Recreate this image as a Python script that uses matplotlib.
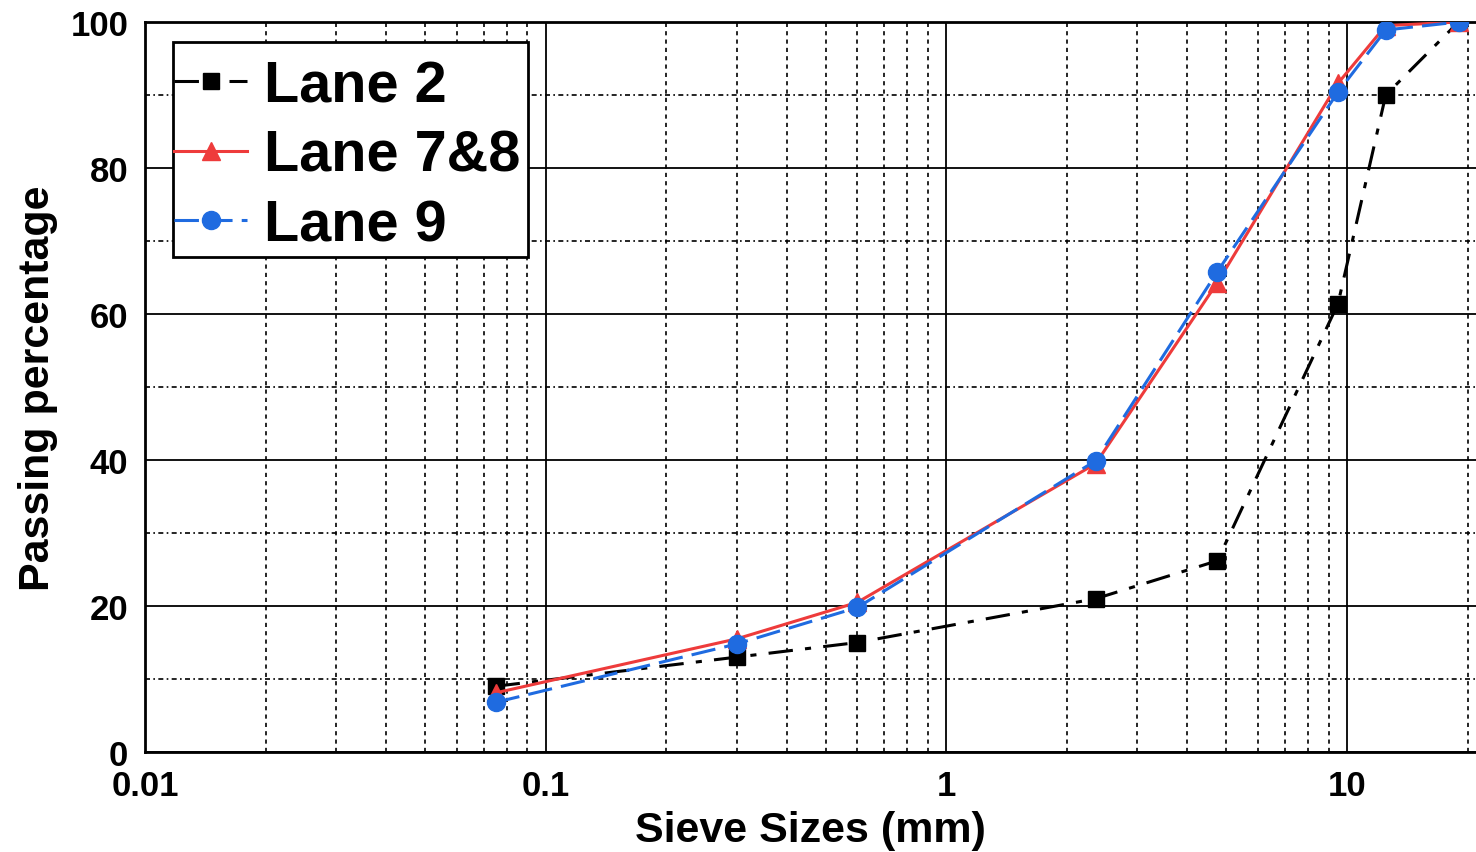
import matplotlib
matplotlib.use("Agg")
import matplotlib.pyplot as plt
from matplotlib.patches import Rectangle
from matplotlib.ticker import LogLocator, FixedLocator, NullFormatter

plt.rcParams['font.family'] = ['Liberation Sans', 'DejaVu Sans']
plt.rcParams['font.weight'] = 'bold'

sieve = [0.075, 0.3, 0.6, 2.36, 4.75, 9.5, 12.5, 19]
lane2 = [9.0, 13.0, 15.0, 21.0, 26.2, 61.4, 90.0, 100.0]
lane78 = [8.1, 15.5, 20.5, 39.5, 64.3, 91.6, 99.5, 100.0]
lane9 = [6.8, 14.8, 19.8, 39.9, 65.8, 90.4, 98.9, 100.0]
series_names = ["Lane 2", "Lane 7&8", "Lane 9"]
xticks = [0.01, 0.1, 1, 10]
xticklabels = ["0.01", "0.1", "1", "10"]
yticks = [0, 20, 40, 60, 80, 100]

W, H = 1476, 853
fig = plt.figure(figsize=(W / 100, H / 100), dpi=100)
ax = fig.add_axes([145 / W, (H - 753) / H, (1476 - 145) / W, (753 - 23) / H])
ax.set_xscale('log')
ax.set_xlim(0.01, 21)
ax.set_ylim(0, 100)

# grids
ax.xaxis.set_major_locator(FixedLocator(xticks))
ax.xaxis.set_minor_locator(LogLocator(base=10, subs=range(2, 10)))
ax.xaxis.set_minor_formatter(NullFormatter())
ax.set_xticks(xticks)
ax.set_xticklabels(xticklabels)
ax.yaxis.set_major_locator(FixedLocator(yticks))
ax.yaxis.set_minor_locator(FixedLocator([10, 30, 50, 70, 90]))
ax.grid(which='major', color='black', linewidth=1.3, linestyle='-')
ax.xaxis.grid(which='minor', color='black', linewidth=1.2, linestyle=(0, (2.5, 2.5)))
ax.yaxis.grid(which='minor', color='black', linewidth=1.2, linestyle=(0, (3, 2, 1, 2)))
ax.set_axisbelow(True)

ax.tick_params(which='both', length=0)
ax.tick_params(axis='x', labelsize=25, pad=12)
ax.tick_params(axis='y', labelsize=25, pad=12)
for lbl in ax.get_xticklabels() + ax.get_yticklabels():
    lbl.set_fontweight('bold')

for side in ['top', 'left', 'bottom']:
    ax.spines[side].set_linewidth(2)
ax.spines['right'].set_visible(False)

ax.plot(sieve, lane2, color='black', linestyle=(0, (8, 4, 2, 4)), linewidth=2.2,
        marker='s', markersize=12, label=series_names[0], zorder=3)
ax.plot(sieve, lane78, color='#ee3b3b', linestyle='-', linewidth=2.2,
        marker='^', markersize=13, label=series_names[1], zorder=4)
ax.plot(sieve, lane9, color='#1f6be0', linestyle=(0, (8, 3)), linewidth=2.2,
        marker='o', markersize=13, label=series_names[2], zorder=5)

ax.set_xlabel("Sieve Sizes (mm)", fontsize=31, fontweight='bold', labelpad=6)
ax.set_ylabel("Passing percentage", fontsize=31, fontweight='bold', labelpad=9)

# legend frame (drawn separately for asymmetric padding)
ax.add_patch(Rectangle((0.021, 0.678), 0.2668, 0.2946, transform=ax.transAxes,
                       facecolor='white', edgecolor='black', linewidth=2,
                       zorder=6, clip_on=False))
leg = ax.legend(loc='upper left', bbox_to_anchor=(0.0075, 0.975), fontsize=41.5,
                frameon=False, handlelength=1.27, handletextpad=0.3, borderpad=0.33,
                labelspacing=0.27, borderaxespad=0)
leg.set_zorder(7)
for t in leg.get_texts():
    t.set_fontweight('bold')

fig.savefig("out.png", dpi=100)
